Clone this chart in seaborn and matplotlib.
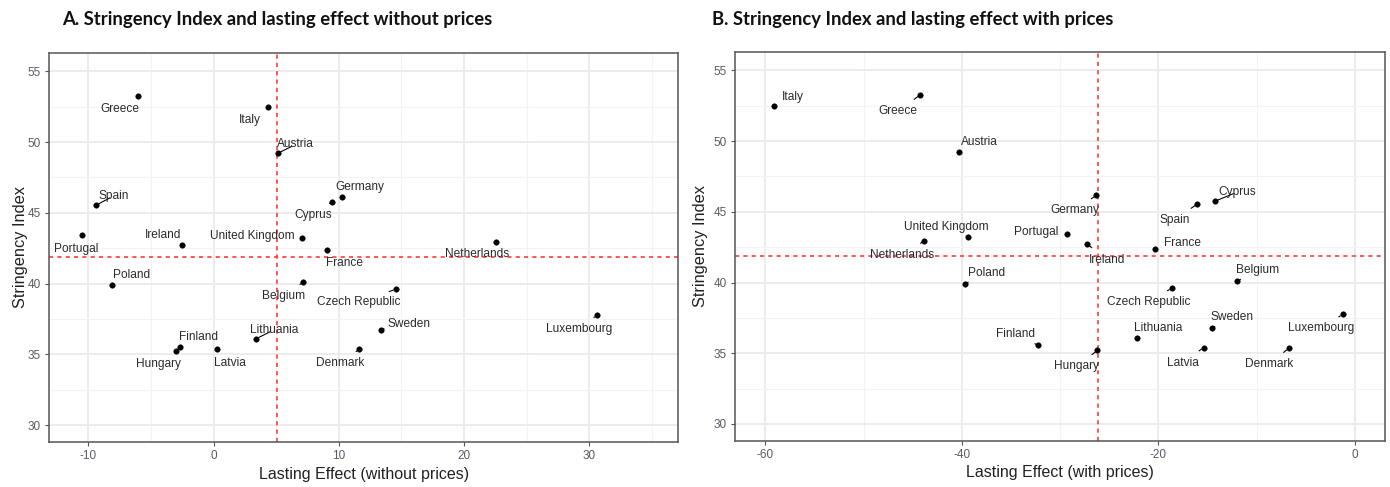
import numpy as np
import pandas as pd
import matplotlib
matplotlib.use("Agg")
import matplotlib.pyplot as plt
import seaborn as sns

# ---- data -------------------------------------------------------------
countries = ["Greece", "Italy", "Austria", "Spain", "Portugal", "Ireland",
             "United Kingdom", "France", "Cyprus", "Germany", "Netherlands",
             "Poland", "Belgium", "Czech Republic", "Lithuania", "Finland",
             "Hungary", "Latvia", "Denmark", "Sweden", "Luxembourg"]

stringency = [53.25, 52.45, 49.2, 45.55, 43.4, 42.75,
              43.2, 42.4, 45.75, 46.15, 42.95,
              39.9, 40.1, 39.6, 36.1, 35.55,
              35.2, 35.4, 35.35, 36.75, 37.75]

effect_without_prices = [-6.0, 4.37, 5.12, -9.36, -10.5, -2.5,
                         7.07, 9.04, 9.44, 10.3, 22.56,
                         -8.1, 7.15, 14.56, 3.41, -2.67,
                         -2.99, 0.27, 11.63, 13.36, 30.6]

effect_with_prices = [-44.25, -59.1, -40.3, -16.04, -29.27, -27.3,
                      -39.4, -20.35, -14.24, -26.35, -43.8,
                      -39.7, -11.97, -18.65, -22.2, -32.2,
                      -26.2, -15.4, -6.74, -14.58, -1.25]

df = pd.DataFrame({"country": countries,
                   "stringency": stringency,
                   "without": effect_without_prices,
                   "with": effect_with_prices})

# label placement (pixel offsets from each point, label centre)
offsets_a = {
    "Greece": (-19, -13), "Italy": (-18, -13), "Austria": (18, 9),
    "Spain": (17, 9), "Portugal": (-6, -14), "Ireland": (-19, 10),
    "United Kingdom": (-50, 2), "France": (18, -13), "Cyprus": (-19, -13),
    "Germany": (17, 10), "Netherlands": (-19, -12), "Poland": (19, 10),
    "Belgium": (-19, -14), "Czech Republic": (-37, -13), "Lithuania": (18, 9),
    "Finland": (18, 10), "Hungary": (-18, -13), "Latvia": (13, -14),
    "Denmark": (-19, -14), "Sweden": (28, 6), "Luxembourg": (-18, -14),
}
offsets_b = {
    "Italy": (19, 9), "Greece": (-22, -16), "Austria": (21, 10),
    "United Kingdom": (-21, 10), "Netherlands": (-22, -14), "Portugal": (-31, 2),
    "Germany": (-21, -15), "Ireland": (20, -16), "Spain": (-23, -16),
    "Cyprus": (22, 9), "France": (28, 6), "Belgium": (20, 11),
    "Czech Republic": (-23, -14), "Sweden": (20, 11), "Luxembourg": (-22, -14),
    "Lithuania": (21, 10), "Latvia": (-21, -15), "Denmark": (-20, -16),
    "Hungary": (-21, -16), "Finland": (-23, 11), "Poland": (22, 11),
}

# ---- style ------------------------------------------------------------
sns.set_theme(style="white")
plt.rcParams["font.family"] = ["Liberation Sans", "DejaVu Sans"]
plt.rcParams["axes.unicode_minus"] = False

DPI = 100
fig = plt.figure(figsize=(13.9, 4.87), dpi=DPI)
ax_a = fig.add_axes([0.0356, 0.0924, 0.4522, 0.7988])
ax_b = fig.add_axes([0.5288, 0.0945, 0.4676, 0.7990])

tick_col = "#5a5a66"
frame_col = "#555555"
grid_col = "#ebebeb"


def style_axes(ax, xlim, xmajor, xminor, ylabelpad):
    ax.set_xlim(*xlim)
    ax.set_ylim(28.8, 56.3)
    ax.set_xticks(xmajor)
    ax.set_xticks(xminor, minor=True)
    ax.set_yticks([30, 35, 40, 45, 50, 55])
    ax.set_yticks([32.5, 37.5, 42.5, 47.5, 52.5], minor=True)
    ax.grid(True, which="major", color=grid_col, lw=1.3, zorder=0)
    ax.grid(True, which="minor", color="#f3f3f3", lw=0.8, zorder=0)
    ax.set_axisbelow(True)
    for s in ax.spines.values():
        s.set_color(frame_col)
        s.set_linewidth(1.1)
    ax.tick_params(axis="both", which="major", length=3, width=0.8,
                   color=frame_col, labelsize=8.5, labelcolor=tick_col,
                   direction="out", pad=3, bottom=True, left=True)
    ax.tick_params(axis="both", which="minor", length=0)
    ax.set_ylabel("Stringency Index", fontsize=11.8, color="#222222",
                  labelpad=ylabelpad)


def draw_panel(ax, xcol, offsets):
    sns.scatterplot(data=df, x=xcol, y="stringency", ax=ax, color="black",
                    s=16, edgecolor="black", linewidth=0.3, zorder=3,
                    legend=False)
    ax.axvline(df[xcol].mean(), color="#ff3b3b", lw=1.2, ls=(0, (2.5, 2.5)), zorder=2)
    ax.axhline(df["stringency"].mean(), color="#ff3b3b", lw=1.2, ls=(0, (2.5, 2.5)), zorder=2)
    for _, r in df.iterrows():
        dx, dy = offsets[r["country"]]
        ax.annotate(r["country"], xy=(r[xcol], r["stringency"]),
                    xytext=(dx, dy), textcoords="offset pixels",
                    ha="center", va="center", fontsize=8.6, color="#2b2b2b",
                    zorder=4,
                    arrowprops=dict(arrowstyle="-", color="black", lw=0.8,
                                    shrinkA=3, shrinkB=2))


draw_panel(ax_a, "without", offsets_a)
style_axes(ax_a, (-13.1, 37.1), [-10, 0, 10, 20, 30], [-5, 5, 15, 25, 35], 0)
ax_a.set_xlabel("Lasting Effect (without prices)", fontsize=11.5,
                color="#222222", labelpad=3)

draw_panel(ax_b, "with", offsets_b)
style_axes(ax_b, (-63.07, 3.05), [-60, -40, -20, 0], [-50, -30, -10], 4)
ax_b.set_xlabel("Lasting Effect (with prices)", fontsize=11.5,
                color="#222222", labelpad=3)

fig.text(61.7 / 1390, 1 - 20 / 487, "A. Stringency Index and lasting effect without prices",
         ha="left", va="center", fontsize=13.3, fontweight="bold",
         family=["Lato", "DejaVu Sans"], color="#111111")
fig.text(711.7 / 1390, 1 - 20 / 487, "B. Stringency Index and lasting effect with prices",
         ha="left", va="center", fontsize=13.3, fontweight="bold",
         family=["Lato", "DejaVu Sans"], color="#111111")

fig.savefig("out.png", dpi=DPI)
